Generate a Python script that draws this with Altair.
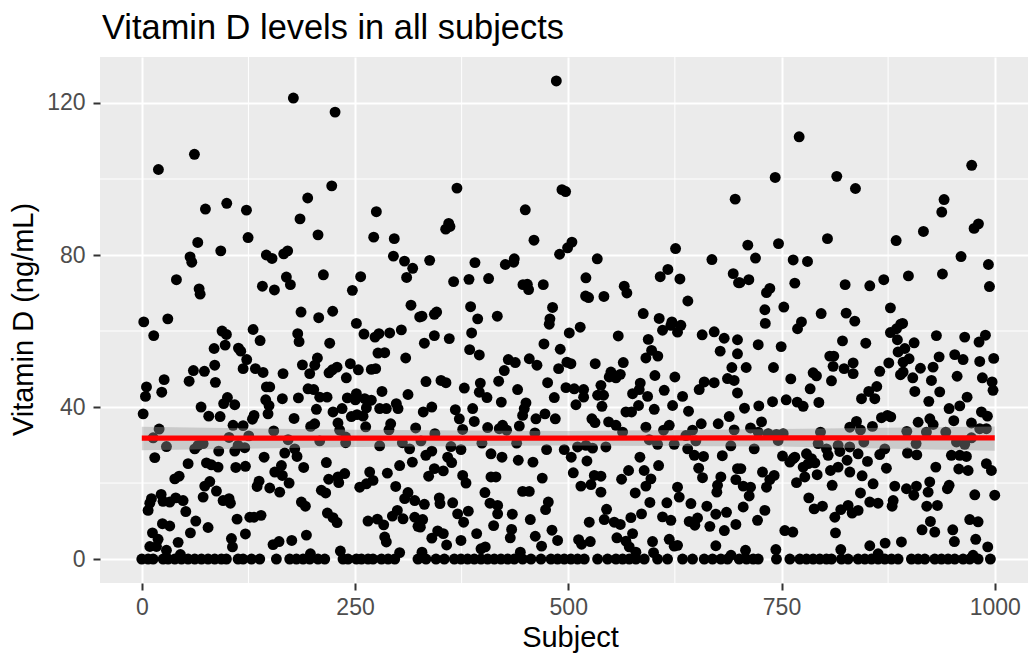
import altair as alt
import pandas as pd

# (subject, vitamin D)
upper_left = [(177.7,121.3),(226.6,117.6),(61.7,106.5),(19.5,102.5),(222.7,98.2),(194.5,95),(275,91.4),(99.6,93.6),(74.6,92.1),(122.7,91.8),(185.5,89.5),(206.6,85.3),(124.6,84.6),(271.9,84.7),(296,84.3),(65.6,83.3),(92.6,81.1),(171,81.1),(166.4,80.3),(146,80),(152.7,79.1),(295,79.7),(56.6,79.5),(58.6,78.1),(308,78.4),(317.6,76.5),(310.5,74.1),(40.6,73.5),(212.9,74.8),(169.5,74.2),(174.2,72.2),(256.6,74.3),(141.4,71.8),(155.5,70.8),(246.9,70.7),(67.2,71.1),(68.4,69.7),(315.6,66.8),(186.7,65),(223.8,65.2),(207.4,63.5),(2.3,62.4),(30.5,63.2),(251.6,62),(325.8,63.7)]
lower_left = [(94.1,60),(99.2,59.1),(14,58.8),(130.5,60.4),(138.7,57.5),(182.8,59.3),(184.4,57.2),(220.3,56.8),(260.5,59.2),(273.4,58.4),(278,59.3),(290.6,59.5),(304.3,60.3),(84.8,55.4),(97.7,56.3),(113.3,55.5),(116,54.7),(276.9,54.2),(284.8,54.3),(309.4,52.9),(123,52.5),(118.8,50.1),(133.2,50.1),(142.2,49.1),(85.5,51),(73.4,49.4),(60.5,49.6),(55.5,46.8),(86.3,46.5),(26.2,47.2),(165.6,48.8),(188.3,51.1),(196.9,48.8),(202.8,51),(205.9,52.9),(219.5,49),(223.4,49.8),(228.9,50.5),(244.5,51.4),(253.9,49.8),(239.8,47.7),(269.1,49.9),(274.2,50.1),(5.5,45.3),(4.3,42.8),(23.4,43.9),(146.1,45.3),(150,45.3),(281.6,44.1),(312.1,43.3),(145.3,41.9),(149.2,40.4),(148,38.2),(164.8,42.2),(183.6,42.4),(194.9,44.8),(201.6,44.6),(208.6,42.6),(217.2,42.6),(241,42.4),(251.6,43.5),(250.4,41.9),(261.3,42.2),(269.1,41.8),(263.3,39.8),(278.9,39.6),(286.7,39.6),(298.4,40.9),(300.4,39.6),(224.2,38.7),(234.8,39.6),(204.7,39.4),(245.7,37.5),(252.3,38),(259.4,37.6),(100.4,42.5),(96,40.9),(109,40.6),(69.5,40),(78.5,37.6),(91.8,37.5),(1.6,38.2),(131.6,37.8),(129.7,36.8),(178.5,37),(107,35.2),(118.8,35.1),(202.7,35.6),(198,34.9),(230,35.8),(291.8,35.6),(289.8,34),(262.5,34.8),(321.1,34.5),(20.3,34.2),(13.3,31.9),(232,33.9),(239,32.1),(239,30.6),(154.7,33.7),(102.3,32),(125.4,32.4),(171.5,31.4),(208.6,31.1),(28.9,29.6),(71.9,30.4),(66,29.9),(62.1,29),(90.2,28.4),(109,28.4),(112.9,29.9),(120.7,29.3),(179.3,29),(167.6,27.9),(182,27),(278.9,29.8),(305.5,30.6),(314,29),(15.2,26.7),(143.4,26.8),(317.2,25.5),(54.3,25.1),(75.8,25.3),(81.6,24.8),(89.4,24.2),(110.2,24.1),(121.5,24.4),(189.8,24.1),(216.4,25.4),(302.3,24.6),(163.7,24.6),(155.9,22.9),(164.8,22),(287.9,22.6),(267.2,22.9),(43.8,21.8),(38.7,21.1),(237.9,22.5),(230,21.6),(219.1,21),(230.9,20.1),(271.1,20.7),(79.7,20.4),(73.8,19.2),(137.5,20.5),(135.2,19.1),(150,18.7),(172.7,20),(161.7,17.6),(263.3,19.8),(255.5,18.9),(297.7,19.1),(87.5,17.9),(71.9,16.3),(210.5,18.1),(215.6,17.4),(312.1,17.5),(308.2,15.9),(320,15.4),(11.3,15.9),(22.7,17),(9.4,14.7),(32.8,15),(39.8,16.1),(48.4,15.4),(24.9,15.2),(7.4,12.8),(51.6,12.5),(95.3,15.4),(102.3,15.9),(103.9,14.7),(187.1,15),(191.8,13.9),(217.6,12.1),(224.2,10.9),(228.9,9.6),(126.6,11),(131.6,11),(139.8,11.5),(111.7,10.5),(63.3,10),(24.2,9.3),(32.8,8.7),(77.7,8.3),(265.2,10),(276.2,10.5),(283.6,9),(293.8,11.3),(299.6,12.8),(306.3,10.6),(320,11),(323.8,8.6),(57,6.9),(12.5,6.9),(121.5,6.6),(193,6.3),(284.8,5.8),(286.7,4.5),(105.1,5.4),(106.3,3.2),(19.1,5.2),(42.6,4.4),(9.4,3.3),(17.2,3.3),(175.8,4.9),(160.9,4.6),(153.9,3.8),(28.9,2.3),(45.3,1.2),(232.8,2.1),(302.3,1.7),(197.7,1.4)]
upper_mid = [(486,125.8),(369.5,97.6),(492.6,97.2),(496.9,96.7),(695.7,94.7),(449.6,91.9),(359.8,88.3),(361.3,87.5),(356.3,86.8),(459.8,83.9),(504.3,83.4),(499.2,81.9),(489.8,80.2),(625.8,81.7),(534,79),(337.5,78.6),(390.6,78),(436.7,79),(436,78.1),(426.2,77.5),(668.4,78.8),(616.8,76.2),(607.8,74.3),(630.9,73.7),(693.4,75.1),(699.6,72.7),(365.6,73),(383.6,73.6),(406.6,73.8),(520.7,74),(446.9,72.2),(452,72.3),(453.5,70.9),(470.7,72.2),(565.6,71.8),(568.7,70),(520.3,69.2),(523.8,68.8),(541.8,69.1),(640.2,67.9),(385.5,66.4),(481.6,66.2),(345.7,65),(343,64.4),(328.5,63.9),(393.8,63.2),(416.8,63.9),(478.5,63.2),(587.9,64.6),(606.6,63.3),(621.5,62.4)]
lower_mid = [(477.7,61.8),(514,61),(501.2,59.5),(386.7,59.5),(343,58.8),(331.3,56.8),(360.5,58),(471.5,56.6),(384.4,55.1),(395.7,53.7),(490.6,55.2),(558.6,58.7),(593.8,57.8),(610.5,60.2),(620.3,61.5),(632,61.5),(628.1,59.7),(657,59),(671.1,59.8),(682.8,58.1),(698.4,57.7),(678.1,54.7),(698.4,54),(597.7,54.9),(591,52.9),(605,53.4),(429.7,52.5),(437.9,51.7),(425,49.6),(454.3,52.7),(463.3,51),(531.6,51.4),(564.5,51.7),(498.4,51.8),(503.1,51.4),(488.7,50.1),(550,49.2),(548,47.9),(555.9,47.7),(561,48.6),(601.6,48.3),(625,47.9),(691.8,50.4),(686.7,47.5),(694.5,47),(333.2,46.7),(350.8,47),(356.6,46.4),(418.4,46.8),(396.9,46.3),(378.1,45),(395.7,43.9),(404.7,42.5),(440.6,44.6),(475.8,46.4),(483.6,42.5),(497.3,45.1),(507,44.8),(518,44.6),(518,42.6),(538.3,45.7),(534.4,43.1),(541.4,43.1),(539.5,40.2),(509,40.6),(421.5,41.3),(584.4,46.3),(575.4,43.5),(583.2,44.6),(593,42.8),(612.5,44.4),(634,42.8),(659.4,46.6),(671.1,46.4),(653.5,44.6),(698.4,43.7),(582.4,40.4),(600.8,39.4),(622.3,40.4),(567.6,38.7),(574.2,38.7),(641,38.9),(340,40),(330,38.7),(367.6,39.3),(387.9,39.6),(372.3,36.9),(389.8,36.2),(450.4,41.1),(448.4,39.6),(446.5,37.8),(472.7,38.2),(462.1,36.9),(484.8,36.9),(527.7,36.9),(531.3,35.9),(547.3,36.1),(555.9,35.2),(688.7,37.5),(675.8,35.6),(655.9,35.6),(405.5,34.6),(376.2,34.1),(423,35.2),(419.1,34.3),(427.7,33.9),(442.6,35),(591,34.7),(618.4,35.2),(611.7,33.9),(645.7,33.9),(637.9,32.5),(694.5,34),(343.6,33),(460.9,33.2),(563.7,33.4),(327.3,31.1),(398.8,30.5),(439.5,30.5),(594.9,31.4),(604.7,30.2),(624.2,30.2),(649.6,31.1),(362.5,29.6),(374.2,28.8),(510.9,29.5),(520.7,29.9),(528.5,29.2),(544.1,29.5),(474.6,28.8),(495.3,28.8),(503.5,26.8),(690.6,29.8),(640,29),(647.8,27.3),(340,28.4),(333,27.3),(409.4,27.7),(422.3,26.8),(358.6,26.8),(363.3,25.4),(441.4,26),(458.6,25.5),(521.9,25.8),(584,26.8),(658.6,27),(680.6,27.2),(605.9,24.6),(652.9,23.9),(343,23.8),(336.3,21.8),(353.5,23.2),(570.7,23.3),(589,23.3),(698.4,23.8),(505.9,22.7),(376.2,22),(380.1,20),(409.4,21.6),(415.2,21.6),(469.5,21.3),(657.4,21.4),(530.5,22),(538.3,21.8),(562.5,21),(596.9,21.1),(591,19.2),(678.9,21.6),(675,19.4),(674.2,17.6),(696.5,20.9),(514.8,19.2),(526.6,19.6),(538.3,17.6),(628.1,18.9),(630.1,16.3),(446.5,17.8),(454.3,17.8),(402.3,17.5),(578.5,17.4),(348.8,16.1),(349.6,14.6),(331.3,14.4),(364.5,14.8),(408.2,14.7),(417.2,14.1),(417.2,11.9),(476.6,15),(473.4,13),(595.7,14.9),(615.6,14.8),(643.8,14.6),(662.5,13.9),(544.9,13.1),(370.3,11.9),(382.8,12.6),(377.3,9.7),(434.4,11.8),(455.5,10.4),(542.2,10.4),(553.9,9.7),(561,9.1),(585.9,11.9),(573.4,10.9),(610.5,11.1),(620.3,10.2),(651.6,10.8),(641.8,9.9),(648.4,8.9),(673,11.8),(685.5,12.3),(696.5,9.1),(329.3,10.4),(326.6,8.4),(524.6,9.7),(412.5,8.8),(666,8.6),(683,7.5),(346.9,7.4),(353.5,6.7),(340,5.5),(392.6,6.7),(433.6,7.8),(432,5.6),(480.9,7.6),(575.4,6.7),(461.3,6),(468.7,3.4),(487.5,4.9),(374.2,4.9),(357.4,3.7),(512.1,5.1),(515.6,3.9),(525.8,4.6),(557,5.6),(567.6,4.7),(571.5,3.2),(579.3,1.8),(598.8,4.6),(618.4,5.2),(624.2,3.4),(628.1,3.6),(673,3.5),(402.7,3.2),(397.7,2.7),(443.8,1.8),(600,1.7),(328.5,1.8),(690.8,1)]
upper_right = [(770.7,111.1),(742.6,100.4),(814.8,100.7),(836.7,97.5),(973,103.6),(940.6,94.6),(937.9,91.3),(980.9,88.2),(975.8,87),(916.4,86.2),(884.4,83.8),(803.9,84.3),(746.5,83),(710.5,82.6),(719.5,79.2),(763.7,78.7),(780.5,78.3),(960.5,79.6),(992.6,77.5),(993.8,71.7),(938.7,75),(898.8,74.5),(869.9,73.5),(853.5,71.9),(824.6,72.2),(765.6,72.6),(711.7,73.5),(701.2,72.7),(736.3,71.2),(732.4,70.1),(730.5,65.6),(752.7,66.3),(877.7,66.1),(796.5,64.6),(825.8,64.7),(835.9,62.6),(773.4,62.4),(731,62),(892,62)]
lower_right = [(768.8,60.6),(889.8,61.8),(884.8,60.6),(877.7,59.6),(885.9,57.7),(931.6,58.8),(964.8,58.4),(989.1,58.9),(981.6,57.1),(722.7,56.4),(749.6,55.9),(821.5,57.4),(848.8,56.8),(905.5,56.9),(894.6,55.4),(886.7,54.5),(899.6,52.7),(892.6,51.8),(806.6,53.4),(811.3,53.4),(934.8,53.2),(953.1,53.8),(962.9,52.5),(982.4,52),(998.8,52.8),(708.6,50.4),(740.6,50.4),(810.5,50.7),(823.4,50.1),(834,51.6),(834,48.8),(875.8,51.6),(865.2,49.4),(912.9,50.2),(927.7,50.5),(892.6,49.2),(889.5,48.5),(903.9,47.7),(925.8,47),(955.9,48.1),(985.5,47.7),(996.9,46.6),(998,44.4),(787.1,49),(791,48.2),(760.9,47.4),(808.6,46.9),(783.6,44.8),(861.7,45.4),(852.3,44.1),(843.8,42.2),(859.4,42.2),(906.3,44.1),(935.5,44),(967.6,42.6),(922.7,41.5),(739.5,41.4),(755.5,41.9),(768.4,41.3),(775.4,40.2),(793.8,41.2),(723.4,40.3),(706.6,39.7),(959,40.3),(946.5,39.6),(984.4,38.7),(991.4,37.6),(867.2,37.2),(874.2,37.8),(878.1,37.4),(726.6,36.1),(713.7,34.5),(837.9,36.2),(830.1,34.7),(842.6,34),(856.6,34.9),(910.2,36),(923.9,36.9),(927.8,35.4),(952,36.4),(972.7,35.8),(982.4,34.3),(990.2,34.3),(896.9,33.6),(919.9,33.4),(942.6,33.4),(795.7,33.4),(722.7,33.4),(734.4,33),(744.1,32.8),(752,33),(746.1,31.2),(846.5,30.8),(793,30.4),(802.7,29),(804.7,27.3),(816.4,29.9),(818.4,28.3),(830,29.5),(839.8,27.7),(907.8,30.4),(955.1,30.8),(964.8,30.2),(972.7,31.9),(718,29),(871.1,29),(865.2,27.5),(897.7,27.9),(908.6,27.4),(949.2,27.3),(959,27.3),(966.8,27),(751.2,27.1),(763.7,26.4),(765.6,26.8),(759.8,25.5),(779.3,27.7),(785.2,26.4),(789.1,25.3),(781.3,25.1),(775.4,24.2),(826.9,26),(850.8,25.7),(816.4,24.2),(807.4,23.3),(830.1,22.9),(873,23.9),(930.9,24.2),(957.8,23.7),(968.8,23.3),(990.2,25.1),(996.1,23.3),(702.3,23.8),(727.7,22.9),(741.4,22),(736.3,20.9),(732.4,18.9),(777.3,21.6),(791.8,22.2),(767.6,20.1),(844.5,21.9),(857.4,19.8),(809.4,19.4),(705.1,19.2),(713.7,18.9),(712.1,16.6),(923.8,20.3),(908.2,19.2),(921.9,17.6),(882.8,19.2),(896.5,18.5),(905.1,16.8),(946.5,19.4),(944.5,18.5),(842.6,17.4),(782,16.1),(788.3,13.2),(798,13.9),(976.6,16.9),(1000,16.8),(853.5,15),(863.2,14.7),(880.9,15.4),(879.7,13.9),(920.3,13.9),(932.8,14.1),(705.1,13.7),(828.1,14.1),(819.5,13),(812.5,11),(832.8,12.1),(839.8,12.8),(730.5,12.8),(721.9,10.2),(970.7,10.4),(980.5,9.8),(924.6,9.9),(914.8,7.7),(929.7,7.1),(950.8,7.7),(753.9,7.5),(763.3,7.1),(813.3,6.9),(952.7,4.6),(977.7,5.2),(991.8,3.2),(853.5,3.5),(871.5,4.2),(890.6,4.5),(707.8,2.3),(743.4,2.5),(819.5,2.5),(863.3,1.4),(974.6,1)]
zero_subjects = [0,7.4,13.3,25,30.9,38.7,46.5,54.3,62.1,69.9,77.7,85.5,93.3,99.2,112.9,118.8,128.6,138.3,157.8,173.4,181.3,189.1,196.9,206.6,214.5,235.9,241.8,251.6,257.5,265.3,271.1,281,288.8,296.6,323.8,
    333.2,344.9,354.7,366.4,374.2,382,389.8,397.7,405.5,413.3,421.1,428.9,436.7,446.5,456.3,468,479.7,487.5,495.3,503.1,510.9,518.8,534.4,546.1,555.9,563.7,571.5,579.3,589.1,604.7,616.4,634,645.7,659.4,669.1,678.9,686.7,700.4,
    709,716.8,722.7,744.1,759.8,771.5,779.3,787.1,794.9,802.7,808.6,820.3,828.1,839.8,847.7,855.5,863.3,871.1,878.9,886.7,902.3,910.2,918,929.7,937.5,945.3,953.1,962.9,970.7,980.5,994.9]

fit_subject = [0, 250, 500, 750, 1000]
fit_value = [31.8, 31.8, 31.8, 31.9, 31.9]
fit_lower = [28.6, 29.5, 29.9, 29.6, 28.5]
fit_upper = [34.8, 34.0, 33.7, 34.2, 34.9]

minor_x = [125, 375, 625, 875]
minor_y = [20, 60, 100]
x_ticks = [0, 250, 500, 750, 1000]
y_ticks = [0, 40, 80, 120]

pts = upper_left + lower_left + upper_mid + lower_mid + upper_right + lower_right + [(s, 0) for s in zero_subjects]
points_df = pd.DataFrame(pts, columns=["subject", "vitd"])
fit_df = pd.DataFrame({"subject": fit_subject, "fit": fit_value, "lo": fit_lower, "hi": fit_upper})

FONT = "Liberation Sans"
x_scale = alt.Scale(domain=[-49, 1039], nice=False, zero=False)
y_scale = alt.Scale(domain=[-6.3, 132.1], nice=False, zero=False)

x_axis = alt.Axis(values=x_ticks, title="Subject", format="d", grid=True, gridColor="white", gridWidth=2,
                  domain=False, tickColor="#333333", tickWidth=2, tickSize=7, labelColor="#4D4D4D",
                  labelFont=FONT, labelFontSize=23, labelPadding=6, titleFont=FONT, titleFontSize=29,
                  titleFontWeight="normal", titleColor="black", titleBaseline="alphabetic", titleX=470, titleY=63)
y_axis = alt.Axis(values=y_ticks, title="Vitamin D (ng/mL)", format="d", grid=True, gridColor="white", gridWidth=2,
                  domain=False, tickColor="#333333", tickWidth=2, tickSize=7, labelColor="#4D4D4D",
                  labelFont=FONT, labelFontSize=23, labelPadding=8, titleFont=FONT, titleFontSize=29,
                  titleFontWeight="normal", titleColor="black", titleX=-62, titleY=262)

grid_x = alt.Chart(pd.DataFrame({"v": minor_x})).mark_rule(color="white", strokeWidth=1).encode(
    x=alt.X("v:Q", scale=x_scale, axis=x_axis))
grid_y = alt.Chart(pd.DataFrame({"v": minor_y})).mark_rule(color="white", strokeWidth=1).encode(
    y=alt.Y("v:Q", scale=y_scale, axis=y_axis))
points = alt.Chart(points_df).mark_circle(color="black", size=119, opacity=1).encode(
    x=alt.X("subject:Q", scale=x_scale, axis=x_axis),
    y=alt.Y("vitd:Q", scale=y_scale, axis=y_axis),
)
band = alt.Chart(fit_df).mark_area(color="#999999", opacity=0.4).encode(
    x=alt.X("subject:Q", scale=x_scale, axis=x_axis),
    y=alt.Y("lo:Q", scale=y_scale, axis=y_axis),
    y2="hi:Q",
)
line = alt.Chart(fit_df).mark_line(color="#FF0000", strokeWidth=5.3).encode(
    x=alt.X("subject:Q", scale=x_scale, axis=x_axis),
    y=alt.Y("fit:Q", scale=y_scale, axis=y_axis),
)

chart = alt.layer(grid_x, grid_y, points, band, line).properties(
    width=928, height=526,
    background="white",
    autosize=alt.AutoSizeParams(type="none"),
    padding={"left": 92, "top": 49, "right": 0, "bottom": 70},
    title=alt.TitleParams("Vitamin D levels in all subjects", anchor="start", frame="group", font=FONT,
                          fontSize=34.4, fontWeight="normal", color="black", dx=2, offset=10),
).configure_view(fill="#EBEBEB", stroke=None)

chart.save("out.html", embed_options={"renderer": "svg", "actions": False})
